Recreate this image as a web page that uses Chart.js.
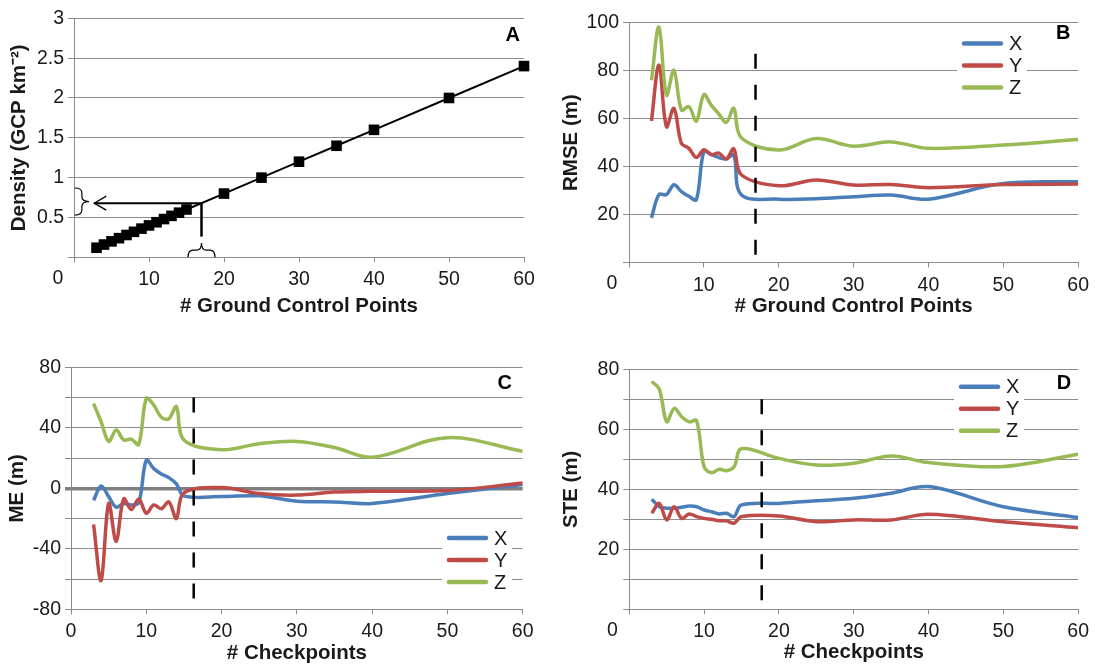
<!DOCTYPE html>
<html>
<head>
<meta charset="utf-8">
<script src="https://cdn.jsdelivr.net/npm/chart.js@4.4.1/dist/chart.umd.min.js"></script>
<style>
  html, body { margin: 0; padding: 0; background: #fff; }
  body { width: 1095px; height: 667px; position: relative; overflow: hidden; }
  canvas { position: absolute; }
</style>
</head>
<body>
<canvas id="chartA" width="548" height="333" style="left:0;top:0;width:548px;height:333px"></canvas>
<canvas id="chartB" width="547" height="333" style="left:548px;top:0;width:547px;height:333px"></canvas>
<canvas id="chartC" width="548" height="334" style="left:0;top:333px;width:548px;height:334px"></canvas>
<canvas id="chartD" width="547" height="334" style="left:548px;top:333px;width:547px;height:334px"></canvas>
<script>
// ---- Data ----
const gcp = [3, 4, 5, 6, 7, 8, 9, 10, 11, 12, 13, 14, 15, 20, 25, 30, 35, 40, 50, 60];

// A: density (GCP per km2)
const density = [0.12, 0.16, 0.2, 0.24, 0.28, 0.32, 0.36, 0.4, 0.44, 0.48, 0.52, 0.56, 0.6,
                 0.8, 1.0, 1.2, 1.4, 1.6, 2.0, 2.4];

// B: RMSE (m)
const rmseX = [18.6, 28.3, 28.3, 32.4, 29.6, 27.6, 26.2, 46.3, 45, 43.8, 43.2, 44.9, 28.3,
               26.4, 26.6, 27.4, 28.1, 26.4, 33, 33.7];
const rmseY = [59, 82.3, 56.6, 64.3, 49.7, 47.6, 43.8, 47, 45, 45.6, 43.2, 47.4, 36.6,
               32, 34.4, 32.3, 32.5, 31.2, 32.5, 32.7];
const rmseZ = [76, 98.2, 69.8, 80.2, 63.6, 65, 59, 70, 65.5, 62, 58.4, 64.3, 52,
               46.9, 51.7, 48.5, 50.3, 47.6, 49, 51.3];

// C: ME (m)
const meX = [-8, 1.5, -5.5, -12.5, -10, -11, -9.5, 18.5, 13, 9.5, 7, 3, -5,
             -5.5, -5, -8.5, -9, -10, -3.5, 2.5];
const meY = [-24, -61, -10, -35, -7, -14, -7, -16.5, -11, -13.5, -9, -20, -3,
             0.5, -3.5, -4.5, -2.5, -2, -1.5, 3.5];
const meZ = [56, 44, 31, 38.5, 32, 32.5, 29, 59.5, 55, 47, 46, 54, 32,
             25.5, 29.5, 31, 27, 20.5, 33.5, 24.5];

// D: STE (m)
const steX = [36.7, 34.2, 33.7, 33.7, 34, 34.4, 34.2, 33.1, 32.5, 31.8, 32, 30.9, 34.8,
              35.3, 36.2, 37, 38.7, 40.9, 34.2, 30.6];
const steY = [32, 35.3, 29.8, 34.2, 30.3, 31.8, 30.9, 30.3, 30, 29.5, 29.5, 28.7, 30.9,
              31.1, 29.2, 29.8, 29.8, 31.7, 29.2, 27.2];
const steZ = [75.9, 73.5, 62.5, 67, 64.2, 62.5, 62.9, 47.5, 45.5, 46.7, 46.2, 47.5, 53.5,
              50.3, 48.1, 48.7, 51.1, 48.9, 47.6, 51.7];

// Cut-off markers (x position, top of dashed line)
const cutB = { x: 16.9, top: 87 };
const cutC = { x: 16.3, top: 60 };
const cutD = { x: 17.7, top: 70 };

// Panel A annotation: chosen GCP count and its density
const markGcp = 17;
const markDensity = 0.68;

// ---- Styling ----
const FONT  = "'Liberation Sans', Arial, sans-serif";
const INK   = '#1a1a1a';
const GRID  = '#8c8c8c';
const BLUE  = '#4a7ebb';
const RED   = '#be4b48';
const GREEN = '#98b954';

function series(label, vals, color, order) {
  return {
    label,
    data: gcp.map((x, i) => ({ x, y: vals[i] })),
    borderColor: color,
    backgroundColor: color,
    borderWidth: 3.5,
    pointRadius: 0,
    tension: 0.35,
    order,
    inLegend: true
  };
}

function cutoff(c, bottom) {
  return {
    label: 'cutoff',
    data: [{ x: c.x, y: c.top }, { x: c.x, y: bottom }],
    borderColor: '#000',
    borderWidth: 2.5,
    borderDash: [15, 16],
    pointRadius: 0,
    tension: 0,
    order: 0
  };
}

// brace opening to the left, tip pointing right
function vBrace(ctx, xl, xt, yt, yb) {
  const xm = (xl + xt) / 2, ym = (yt + yb) / 2, r = 5;
  ctx.beginPath();
  ctx.moveTo(xl, yt);
  ctx.quadraticCurveTo(xm, yt, xm, yt + r);
  ctx.lineTo(xm, ym - r);
  ctx.quadraticCurveTo(xm, ym, xt, ym);
  ctx.quadraticCurveTo(xm, ym, xm, ym + r);
  ctx.lineTo(xm, yb - r);
  ctx.quadraticCurveTo(xm, yb, xl, yb);
  ctx.stroke();
}
// brace opening downward, tip pointing up
function hBrace(ctx, xl, xr, yb, yt) {
  const ym = (yb + yt) / 2, xm = (xl + xr) / 2, r = 5;
  ctx.beginPath();
  ctx.moveTo(xl, yb);
  ctx.quadraticCurveTo(xl, ym, xl + r, ym);
  ctx.lineTo(xm - r, ym);
  ctx.quadraticCurveTo(xm, ym, xm, yt);
  ctx.quadraticCurveTo(xm, ym, xm + r, ym);
  ctx.lineTo(xr - r, ym);
  ctx.quadraticCurveTo(xr, ym, xr, yb);
  ctx.stroke();
}

const decor = {
  id: 'panelDecor',
  afterDraw(chart, args, o) {
    const { ctx, chartArea: ca } = chart;
    const xs = chart.scales.x, ys = chart.scales.y;
    ctx.save();

    if (o.annotate) {
      const px = xs.getPixelForValue(markGcp);
      const py = ys.getPixelForValue(markDensity);
      const tipX = xs.getPixelForValue(2.7);
      ctx.strokeStyle = '#000';
      ctx.lineWidth = 2;
      ctx.beginPath();
      ctx.moveTo(px, py); ctx.lineTo(tipX, py);
      ctx.stroke();
      ctx.lineWidth = 1.3;
      ctx.beginPath();
      ctx.moveTo(tipX + 12, py - 7); ctx.lineTo(tipX, py); ctx.lineTo(tipX + 12, py + 7);
      ctx.stroke();
      ctx.lineWidth = 2.5;
      ctx.beginPath();
      ctx.moveTo(px, py); ctx.lineTo(px, ys.getPixelForValue(0.26));
      ctx.stroke();
      ctx.lineWidth = 1.2;
      vBrace(ctx, xs.getPixelForValue(0.1), xs.getPixelForValue(2.0),
             ys.getPixelForValue(0.87), ys.getPixelForValue(0.53));
      hBrace(ctx, xs.getPixelForValue(15.2), xs.getPixelForValue(18.8),
             ys.getPixelForValue(0), ys.getPixelForValue(0.18));
    }

    if (o.letter) {
      ctx.fillStyle = '#000';
      ctx.font = `bold 20px ${FONT}`;
      ctx.textAlign = 'center';
      ctx.textBaseline = 'middle';
      ctx.fillText(o.letter.text, xs.getPixelForValue(o.letter.x), ys.getPixelForValue(o.letter.y));
    }

    if (o.zeroShift != null) {
      ctx.fillStyle = INK;
      ctx.font = `19.5px ${FONT}`;
      ctx.textAlign = 'center';
      ctx.textBaseline = 'middle';
      ctx.fillText('0', ca.left + o.zeroShift, ca.bottom + 21);
    }

    if (o.legend) {
      const items = chart.data.datasets.filter(d => d.inLegend);
      const gap = 22;
      const { x, y } = o.legend;
      ctx.fillStyle = '#fff';
      ctx.fillRect(x - 7, y - 11, 70, gap * (items.length - 1) + 22);
      ctx.font = `20px ${FONT}`;
      ctx.textAlign = 'left';
      ctx.textBaseline = 'middle';
      items.forEach((d, i) => {
        const yy = y + i * gap;
        ctx.strokeStyle = d.borderColor;
        ctx.lineWidth = 4.5;
        ctx.lineCap = 'round';
        ctx.beginPath();
        ctx.moveTo(x, yy); ctx.lineTo(x + 37, yy);
        ctx.stroke();
        ctx.fillStyle = INK;
        ctx.fillText(d.label, x + 45, yy + 1);
      });
    }
    ctx.restore();
  }
};

function buildChart(id, o) {
  const canvas = document.getElementById(id);
  const W = canvas.width, H = canvas.height;
  const p = o.plot;
  return new Chart(canvas, {
    type: 'line',
    data: { datasets: o.datasets },
    options: {
      responsive: false,
      animation: false,
      events: [],
      layout: { padding: { left: 0, top: p.t, right: W - p.r, bottom: 0 } },
      plugins: {
        legend: { display: false },
        tooltip: { enabled: false },
        panelDecor: o.decor
      },
      scales: {
        x: {
          type: 'linear', min: 0, max: 60,
          afterFit: s => { s.height = H - p.b; },
          border: { color: GRID, width: 1 },
          grid: { drawOnChartArea: false, drawTicks: true, tickLength: 5, color: GRID },
          ticks: {
            stepSize: 10, padding: 6, maxRotation: 0, color: INK,
            font: { family: FONT, size: 19.5 },
            callback: v => (o.decor.zeroShift != null && v === 0) ? '' : String(v)
          },
          title: {
            display: true, text: o.xTitle, color: INK,
            font: { family: FONT, size: 20.5, weight: 'bold' },
            padding: { top: 0, bottom: o.xTitlePad }
          }
        },
        y: {
          type: 'linear', min: o.yMin, max: o.yMax,
          afterFit: s => { s.width = p.l; },
          border: { color: GRID, width: 1 },
          grid: {
            tickLength: 6,
            color: c => (o.zeroLine && c.tick && c.tick.value === 0) ? '#7f7f7f' : GRID,
            lineWidth: c => (o.zeroLine && c.tick && c.tick.value === 0) ? 3.5 : 1
          },
          ticks: {
            stepSize: o.yStep, padding: 4, color: INK,
            font: { family: FONT, size: 19.5 },
            callback: o.yLabel
          },
          title: {
            display: true, text: o.yTitle, color: INK,
            font: { family: FONT, size: 20.5, weight: 'bold' },
            padding: { top: o.yTitlePad, bottom: 0 }
          }
        }
      }
    },
    plugins: [decor]
  });
}

// A
buildChart('chartA', {
  plot: { l: 74, r: 524, t: 18.3, b: 257.3 },
  yMin: 0, yMax: 3, yStep: 0.5,
  yLabel: v => v === 0 ? '' : String(v),
  xTitle: '# Ground Control Points', xTitlePad: 14.5,
  yTitle: 'Density (GCP km\u207B\u00B2)', yTitlePad: 7.5,
  datasets: [{
    label: 'Density',
    data: gcp.map((x, i) => ({ x, y: density[i] })),
    borderColor: '#000', backgroundColor: '#000', borderWidth: 2,
    pointStyle: 'rect', pointRadius: 7.5, pointBorderWidth: 0, tension: 0,
    clip: false
  }],
  decor: { letter: { text: 'A', x: 58.5, y: 2.79 }, zeroShift: -16, annotate: true }
});

// B
buildChart('chartB', {
  plot: { l: 81, r: 531, t: 22.7, b: 262.5 },
  yMin: 0, yMax: 100, yStep: 10,
  yLabel: v => (v !== 0 && v % 20 === 0) ? String(v) : '',
  xTitle: '# Ground Control Points', xTitlePad: 14.5,
  yTitle: 'RMSE (m)', yTitlePad: 11.5,
  datasets: [
    series('X', rmseX, BLUE, 3), series('Y', rmseY, RED, 2), series('Z', rmseZ, GREEN, 1),
    cutoff(cutB, 0)
  ],
  decor: { letter: { text: 'B', x: 58, y: 95.7 }, zeroShift: -17, legend: { x: 416, y: 43.5 } }
});

// C
buildChart('chartC', {
  plot: { l: 71, r: 522.7, t: 34.3, b: 276.3 },
  yMin: -80, yMax: 80, yStep: 20, zeroLine: true,
  yLabel: v => (v % 40 === 0) ? String(v) : '',
  xTitle: '# Checkpoints', xTitlePad: 1.5,
  yTitle: 'ME (m)', yTitlePad: 5.5,
  datasets: [
    series('X', meX, BLUE, 3), series('Y', meY, RED, 2), series('Z', meZ, GREEN, 1),
    cutoff(cutC, -80)
  ],
  decor: { letter: { text: 'C', x: 57.6, y: 69.6 }, legend: { x: 449, y: 205 } }
});

// D
buildChart('chartD', {
  plot: { l: 81.3, r: 530.4, t: 36.3, b: 276.3 },
  yMin: 0, yMax: 80, yStep: 10,
  yLabel: v => (v !== 0 && v % 20 === 0) ? String(v) : '',
  xTitle: '# Checkpoints', xTitlePad: 2.5,
  yTitle: 'STE (m)', yTitlePad: 11.5,
  datasets: [
    series('X', steX, BLUE, 3), series('Y', steY, RED, 2), series('Z', steZ, GREEN, 1),
    cutoff(cutD, 0)
  ],
  decor: { letter: { text: 'D', x: 58.1, y: 75.4 }, zeroShift: -17, legend: { x: 413, y: 53.7 } }
});
</script>
</body>
</html>
